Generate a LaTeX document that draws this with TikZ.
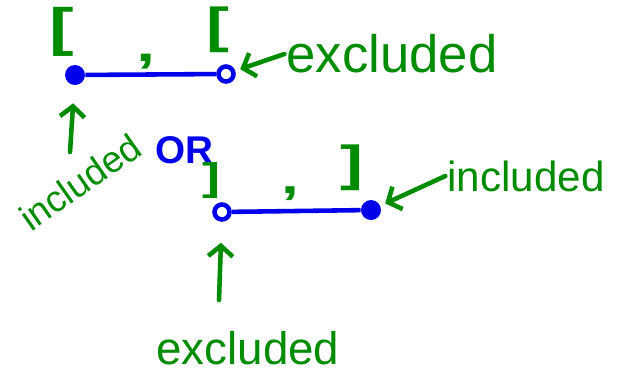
\documentclass[tikz,border=0pt]{standalone}
\usepackage{fontspec}
\setmainfont{Liberation Sans}
\usetikzlibrary{arrows.meta,positioning}
\definecolor{penblue}{RGB}{0,0,235}
\definecolor{pengreen}{RGB}{0,140,0}
\tikzset{
  soliddot/.style={circle, fill=penblue, inner sep=0pt, minimum size=0.4cm},
  hollowdot/.style={circle, draw=penblue, fill=white, line width=2.6pt, inner sep=0pt, minimum size=0.3cm},
  interval/.style={draw=penblue, line width=2.6pt},
  note/.style={text=pengreen, inner sep=1pt},
  bracket/.style={note, font=\fontsize{#1}{#1}\selectfont\bfseries, xscale=1.4},
  pointer/.style={draw=pengreen, line width=2.6pt, line cap=round,
    -{Straight Barb[length=6pt,width=14pt]}},
}

\begin{document}
\begin{tikzpicture}[x=0.02cm, y=-0.02cm]
\useasboundingbox (0,0) rectangle (624,376);

% [ , [
\node[soliddot] (a1) at (75,75) {};
\node[hollowdot] (b1) at (226,74) {};
\draw[interval] (a1) -- (b1);

\node[bracket=30] (lb1) at (62,32) {[};
\node[bracket=28] (rb1) at (218,30) {[};
\node[bracket=28] (cm1) at (146,62) {,};

\node[note, font=\fontsize{30}{30}\selectfont] (ex1) at (392,54) {excluded};
\node[note, font=\fontsize{21}{21}\selectfont, rotate=35] (in1) at (80,182) {included};
\coordinate (t1) at (70,152);

\draw[pointer, shorten >=3pt] (ex1.west) -- (b1);
\draw[pointer, shorten >=0.36cm] (t1) -- (a1);

\node[text=penblue, font=\fontsize{22}{22}\selectfont\bfseries] (or) at (184,150) {OR};

% ] , ]
\node[hollowdot] (c2) at (222,212) {};
\node[soliddot] (d2) at (371,210) {};
\draw[interval] (c2) -- (d2);

\node[bracket=22] (lb2) at (212,180) {]};
\node[bracket=28] (rb2) at (352,168) {]};
\node[bracket=26] (cm2) at (290,194) {,};

\node[note, font=\fontsize{24}{24}\selectfont] (in2) at (526,176) {included};
\node[note, font=\fontsize{26}{26}\selectfont] (ex2) at (248,348) {excluded};
\coordinate (t2) at (219,300);

\draw[pointer, shorten >=3pt] (in2.west) -- (d2);
\draw[pointer, shorten >=0.42cm] (t2) -- (c2);

\end{tikzpicture}
\end{document}
